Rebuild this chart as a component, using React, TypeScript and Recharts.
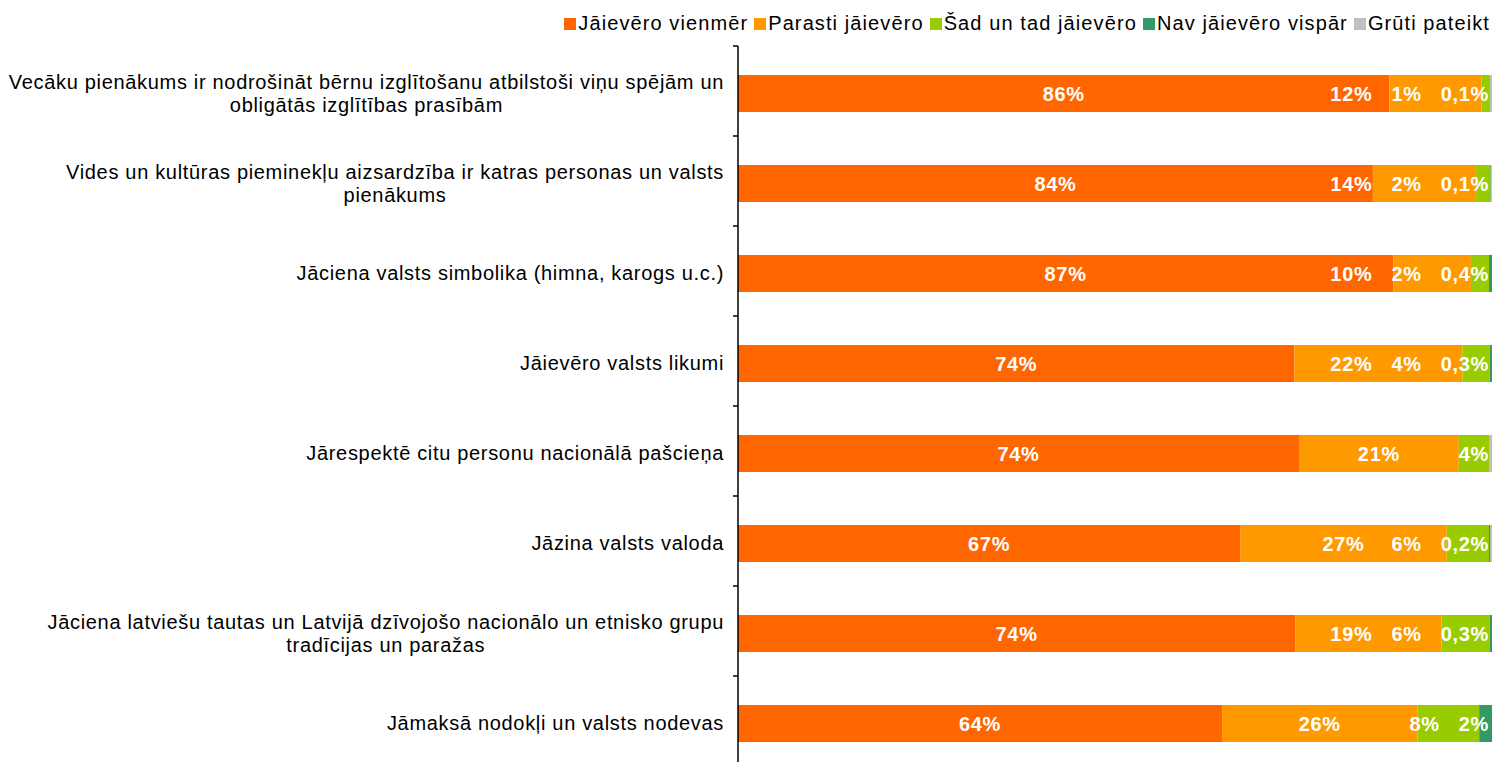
import React from 'react';
import { BarChart, Bar, XAxis, YAxis, LabelList } from 'recharts';

const CATEGORIES = [
  'Vecāku pienākums ir nodrošināt bērnu izglītošanu atbilstoši viņu spējām un\nobligātās izglītības prasībām',
  'Vides un kultūras pieminekļu aizsardzība ir katras personas un valsts\npienākums',
  'Jāciena valsts simbolika (himna, karogs u.c.)',
  'Jāievēro valsts likumi',
  'Jārespektē citu personu nacionālā pašcieņa',
  'Jāzina valsts valoda',
  'Jāciena latviešu tautas un Latvijā dzīvojošo nacionālo un etnisko grupu\ntradīcijas un paražas',
  'Jāmaksā nodokļi un valsts nodevas',
];

const SERIES_NAMES = ['Jāievēro vienmēr', 'Parasti jāievēro', 'Šad un tad jāievēro', 'Nav jāievēro vispār', 'Grūti pateikt'];
const COLORS = ['#FF6600', '#FF9900', '#99CC00', '#339966', '#C0C0C0'];

const always = [86.4, 84.2, 86.9, 73.8, 74.4, 66.6, 73.9, 64.2];
const usually = [12.2, 13.7, 10.3, 22.3, 21.2, 27.4, 19.4, 25.9];
const sometimes = [1.1, 1.9, 2.4, 3.6, 4.1, 5.6, 6.4, 8.2];
const never = [0.1, 0.1, 0.4, 0.3, 0, 0.2, 0.3, 1.7];
const hardToSay = [0.2, 0.1, 0, 0, 0.3, 0.2, 0, 0];

const SERIES = [always, usually, sometimes, never, hardToSay];

// layout
const CHART_W = 1487;
const CHART_H = 770;
const MARGIN = { top: 38, right: 3, bottom: 12, left: 0 };
const YAXIS_W = 730;
const PLOT_W = CHART_W - MARGIN.left - MARGIN.right - YAXIS_W;
const PLOT_H = CHART_H - MARGIN.top - MARGIN.bottom;
const BAND = PLOT_H / CATEGORIES.length;
const HALF_BAND = BAND / 2;
const PX_PER_UNIT = PLOT_W / 100;
const BAR_SHIFT = 2; // bars sit a little below the band centre in the original

const FONT = "'Liberation Sans', Arial, sans-serif";
const SPACING = 0.68;
const LABEL_GAP = 19;

let measureCtx: CanvasRenderingContext2D | null = null;
function textWidth(t: string, font: string) {
  if (!measureCtx) measureCtx = document.createElement('canvas').getContext('2d');
  if (!measureCtx) return t.length * 10;
  measureCtx.font = font;
  return measureCtx.measureText(t).width + SPACING * t.length;
}

const fmt = (v: number) => (v < 1 ? v.toFixed(1).replace('.', ',') : String(Math.round(v))) + '%';

const data = CATEGORIES.map((name, i) => {
  const row: Record<string, number | string> = { name };
  SERIES.forEach((s, k) => (row['s' + k] = s[i]));
  return row;
});

// label centres per row, px from plot left; small labels are packed to the right end
function layoutRow(i: number) {
  const vals = SERIES.map((s) => s[i]);
  const cum: number[] = [];
  vals.reduce((acc, v, k) => ((cum[k] = acc), acc + v), 0);
  const centers: Record<number, number> = {};
  centers[0] = (vals[0] / 2) * PX_PER_UNIT;
  let limit = PLOT_W - 3;
  for (let k = 3; k >= 1; k--) {
    if (vals[k] <= 0) continue;
    const w = textWidth(fmt(vals[k]), `bold 20px ${FONT}`);
    const want = (cum[k] + vals[k] / 2) * PX_PER_UNIT;
    const right = Math.min(want + w / 2, limit);
    centers[k] = right - w / 2;
    limit = right - w - LABEL_GAP;
  }
  return { centers, cum };
}
const LAYOUTS = CATEGORIES.map((_, i) => layoutRow(i));

const renderLabel = (k: number) => (p: any) => {
  // zero-size segments are dropped by LabelList, so find the row from the bar position
  const i = Math.floor((p.y + p.height / 2 - MARGIN.top) / BAND);
  const v = SERIES[k][i];
  const lay = LAYOUTS[i];
  if (!lay || !(v > 0) || lay.centers[k] === undefined) return null;
  const plotLeft = p.x - lay.cum[k] * PX_PER_UNIT;
  return (
    <text
      key={`l${k}-${i}`}
      x={plotLeft + lay.centers[k]}
      y={p.y + p.height / 2 + BAR_SHIFT}
      dy="0.36em"
      textAnchor="middle"
      fill="#fff"
      fontWeight="bold"
      fontSize={20}
      fontFamily={FONT}
      letterSpacing={SPACING}
    >
      {fmt(v)}
    </text>
  );
};

function CategoryTick(props: any) {
  const { y, payload, index } = props;
  const lines: string[] = String(payload.value).split('\n');
  const widths = lines.map((l) => textWidth(l, `20px ${FONT}`));
  const blockW = Math.max(...widths);
  const cx = YAXIS_W - 14 - blockW / 2;
  const lineH = 23;
  const y0 = y + BAR_SHIFT - ((lines.length - 1) * lineH) / 2;
  return (
    <g>
      {lines.map((l, j) => (
        <text key={j} x={cx} y={y0 + j * lineH} dy="0.36em" textAnchor="middle" fontSize={20} fontFamily={FONT} letterSpacing={SPACING} fill="#000">
          {l}
        </text>
      ))}
      <line x1={YAXIS_W - 5} x2={YAXIS_W} y1={y - HALF_BAND} y2={y - HALF_BAND} stroke="#000" strokeWidth={1.5} />
      {index === CATEGORIES.length - 1 && (
        <line x1={YAXIS_W - 5} x2={YAXIS_W} y1={y + HALF_BAND} y2={y + HALF_BAND} stroke="#000" strokeWidth={1.5} />
      )}
    </g>
  );
}

function ChartLegend() {
  return (
    <div style={{ position: 'absolute', top: 4, right: 5, display: 'flex', alignItems: 'center', fontFamily: FONT, fontSize: 20, letterSpacing: 1.1, color: '#000', whiteSpace: 'nowrap' }}>
      {SERIES_NAMES.map((n, k) => (
        <div key={n} style={{ display: 'flex', alignItems: 'center', marginLeft: k ? 6 : 0 }}>
          <span style={{ width: 12, height: 12, background: COLORS[k], display: 'inline-block', marginRight: 2 }} />
          <span>{n}</span>
        </div>
      ))}
    </div>
  );
}

const OffsetBar = (props: any) => {
  const { x, y, width, height, fill } = props;
  if (!(width > 0)) return null;
  return <rect x={x} y={y + BAR_SHIFT} width={width} height={height} fill={fill} />;
};

export default function App() {
  return (
    <div style={{ position: 'absolute', left: 8, top: 8, width: CHART_W, height: 754, overflow: 'hidden', background: '#fff' }}>
      <BarChart width={CHART_W} height={CHART_H} data={data} layout="vertical" margin={MARGIN} barSize={37}>
        <XAxis type="number" domain={[0, 100]} hide />
        <YAxis
          type="category"
          dataKey="name"
          width={YAXIS_W}
          interval={0}
          tickLine={false}
          axisLine={{ stroke: '#000', strokeWidth: 1.5 }}
          tick={<CategoryTick />}
        />
        {SERIES_NAMES.map((n, k) => (
          <Bar key={n} dataKey={'s' + k} name={n} stackId="a" fill={COLORS[k]} shape={<OffsetBar />} isAnimationActive={false}>
            {k < 4 && <LabelList content={renderLabel(k)} />}
          </Bar>
        ))}
      </BarChart>
      <ChartLegend />
    </div>
  );
}
